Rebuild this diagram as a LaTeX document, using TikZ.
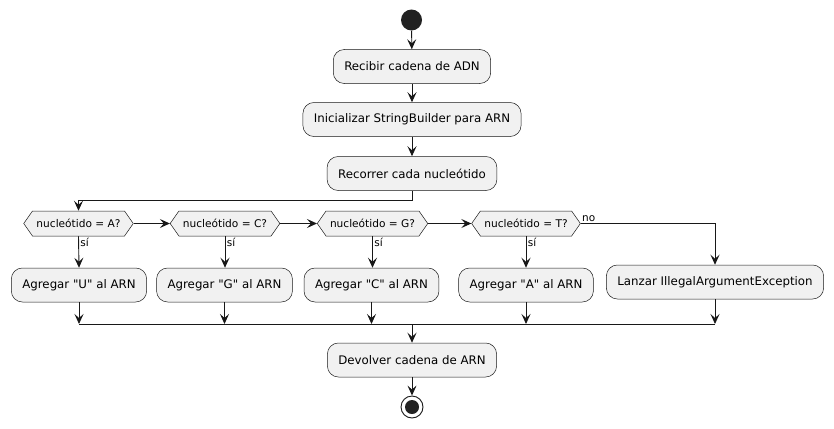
\documentclass[tikz,border=0pt]{standalone}
\usepackage{fontspec}
\setmainfont{DejaVu Sans}
\usetikzlibrary{shapes.symbols, arrows.meta}
\definecolor{boxfill}{HTML}{F1F1F1}
\definecolor{ink}{HTML}{181818}
\definecolor{dot}{HTML}{222222}
\newcommand{\dq}{\textquotedbl}
\begin{document}
\begin{tikzpicture}[x=1pt,y=-1pt,
  act/.style={draw=ink, fill=boxfill, rounded corners=11pt, line width=0.5pt,
    minimum height=34pt, inner xsep=11pt, font=\fontsize{11.8}{14}\selectfont},
  dec/.style={signal, signal to=east and west, signal pointer angle=110,
    draw=ink, fill=boxfill, line width=0.5pt, minimum height=25pt, inner xsep=4pt,
    font=\fontsize{10.6}{12}\selectfont},
  arr/.style={draw=ink, line width=0.9pt, -{Stealth[length=10pt,width=9pt,inset=4pt]}},
  ln/.style={draw=ink, line width=0.9pt},
  lbl/.style={font=\fontsize{10.5}{12}\selectfont, inner sep=1.5pt}]
\useasboundingbox (0,0) rectangle (834,428);
\node[circle, fill=dot, minimum size=21pt, inner sep=0pt] (start) at (411.5,20) {};
\node[act] (recibir) at (412,66.5) {Recibir cadena de ADN};
\node[act] (init) at (412,119.5) {Inicializar StringBuilder para ARN};
\node[act] (recorrer) at (412,173.5) {Recorrer cada nucleótido};
\node[dec] (dA) at (78.5,223.5) {nucleótido = A?};
\node[dec] (dC) at (225,223.5) {nucleótido = C?};
\node[dec] (dG) at (372.5,223.5) {nucleótido = G?};
\node[dec] (dT) at (526,223.5) {nucleótido = T?};
\node[act] (aU) at (79,285) {Agregar \dq U\dq{} al ARN};
\node[act] (aG) at (224.5,285) {Agregar \dq G\dq{} al ARN};
\node[act] (aC) at (371.5,285) {Agregar \dq C\dq{} al ARN};
\node[act] (aA) at (526,285) {Agregar \dq A\dq{} al ARN};
\node[act] (lanzar) at (715,282) {Lanzar IllegalArgumentException};
\node[act] (dev) at (412,360) {Devolver cadena de ARN};
\node[circle, draw=ink, line width=0.9pt, fill=white, minimum size=22pt, inner sep=0pt] (stop) at (412,407) {};
\node[circle, fill=dot, minimum size=14pt, inner sep=0pt] (stopin) at (stop.center) {};
\coordinate (mL) at (79,324);
\coordinate (mR) at (715,324);
\coordinate (mM) at (412,324);
\draw[arr] (start) -- (recibir);
\draw[arr] (recibir) -- (init);
\draw[arr] (init) -- (recorrer);
\draw[arr] (recorrer.south) -- ++(0,10) -| (dA.north);
\draw[arr] (dA.east) -- (dC.west);
\draw[arr] (dC.east) -- (dG.west);
\draw[arr] (dG.east) -- (dT.west);
\draw[arr] (dT.east) -- node[pos=0, anchor=south west, lbl, inner sep=1pt]{no} (dT.east -| lanzar.north) -- (lanzar.north);
\draw[arr] (dA.south) -- node[pos=0, anchor=north west, lbl]{sí} (aU.north);
\draw[arr] (dC.south) -- node[pos=0, anchor=north west, lbl]{sí} (dC.south |- aG.north);
\draw[arr] (dG.south) -- node[pos=0, anchor=north west, lbl]{sí} (dG.south |- aC.north);
\draw[arr] (dT.south) -- node[pos=0, anchor=north west, lbl]{sí} (aA.north);
\draw[arr] (aU.south) -- (aU.south |- mL);
\draw[arr] (aG.south) -- (aG.south |- mL);
\draw[arr] (aC.south) -- (aC.south |- mL);
\draw[arr] (aA.south) -- (aA.south |- mL);
\draw[arr] (lanzar.south) -- (lanzar.south |- mL);
\draw[ln] (mL) -- (mR);
\draw[arr] (mM) -- (dev.north);
\draw[arr] (dev) -- (stop);
\end{tikzpicture}
\end{document}
